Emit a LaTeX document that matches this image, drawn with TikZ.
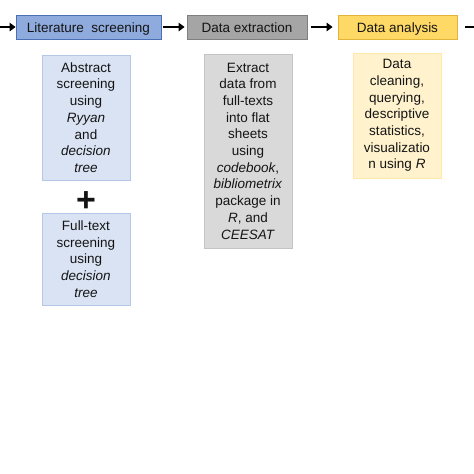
\documentclass[tikz,border=0pt]{standalone}
\usepackage{fontspec}
\setmainfont{Liberation Sans}
\usetikzlibrary{arrows.meta}
\definecolor{hblue}{HTML}{8FAADC}
\definecolor{hbluebd}{HTML}{4A6FB5}
\definecolor{lblue}{HTML}{DAE3F3}
\definecolor{lbluebd}{HTML}{B4C7E7}
\definecolor{hgray}{HTML}{A5A5A5}
\definecolor{hgraybd}{HTML}{7F7F7F}
\definecolor{lgray}{HTML}{D9D9D9}
\definecolor{lgraybd}{HTML}{C4C4C4}
\definecolor{hyel}{HTML}{FFD966}
\definecolor{hyelbd}{HTML}{E3B43A}
\definecolor{lyel}{HTML}{FFF2CC}
\definecolor{lyelbd}{HTML}{FFE9A8}
\definecolor{ink}{HTML}{141414}
\tikzset{
  hdr/.style={draw, line width=0.9pt, inner sep=0pt, minimum height=24pt, text=ink,
    text height=10.6pt, text depth=0pt,
    font=\fontsize{13.5}{16.5}\selectfont},
  sub/.style={draw, line width=0.8pt, inner sep=0pt, minimum width=88pt, align=center, text=ink,
    font=\fontsize{13.5}{16.7}\selectfont},
  flow/.style={line width=2.4pt, -{Triangle[length=6pt,width=8.5pt]}},
}
\begin{document}
\begin{tikzpicture}[x=1pt,y=-1pt]
\useasboundingbox (0,0) rectangle (474,474);
\node[hdr, fill=hblue, draw=hbluebd, minimum width=145pt] (lit) at (88.5,27) {Literature\ \ screening};
\node[hdr, fill=hgray, draw=hgraybd, minimum width=120pt] (ext) at (247,27) {Data extraction};
\node[hdr, fill=hyel, draw=hyelbd, minimum width=119pt] (ana) at (397.5,27) {Data analysis};
\coordinate (start) at (0,27);
\coordinate (next) at (474,27);
\draw[flow] (start) -- (lit.west);
\draw[flow, shorten <=2pt, shorten >=2pt] (lit.east) -- (ext.west);
\draw[flow, shorten <=4pt, shorten >=5pt] (ext.east) -- (ana.west);
\draw[line width=2.4pt, shorten <=8pt] (ana.east) -- (next);

\node[sub, fill=lblue, draw=lbluebd, minimum height=125pt] (abs) at (86,117.5)
  {Abstract\\screening\\using\\\textit{Ryyan}\\and\\\textit{decision}\\\textit{tree}};
\node[font=\fontsize{34}{34}\selectfont\bfseries, text=ink, inner sep=0pt] (plus) at (86,201.5) {+};
\node[sub, fill=lblue, draw=lbluebd, minimum height=92pt] (full) at (86,259)
  {Full-text\\screening\\using\\\textit{decision}\\\textit{tree}};
\node[sub, fill=lgray, draw=lgraybd, minimum height=194pt] (extsub) at (248,151)
  {Extract\\data from\\full-texts\\into flat\\sheets\\using\\\textit{codebook},\\\textit{bibliometrix}\\package in\\\textit{R}, and\\\textit{CEESAT}};
\node[sub, fill=lyel, draw=lyelbd, minimum height=125pt] (anasub) at (397,115.5)
  {Data\\cleaning,\\querying,\\descriptive\\statistics,\\visualizatio\\n using \textit{R}};
\end{tikzpicture}
\end{document}
